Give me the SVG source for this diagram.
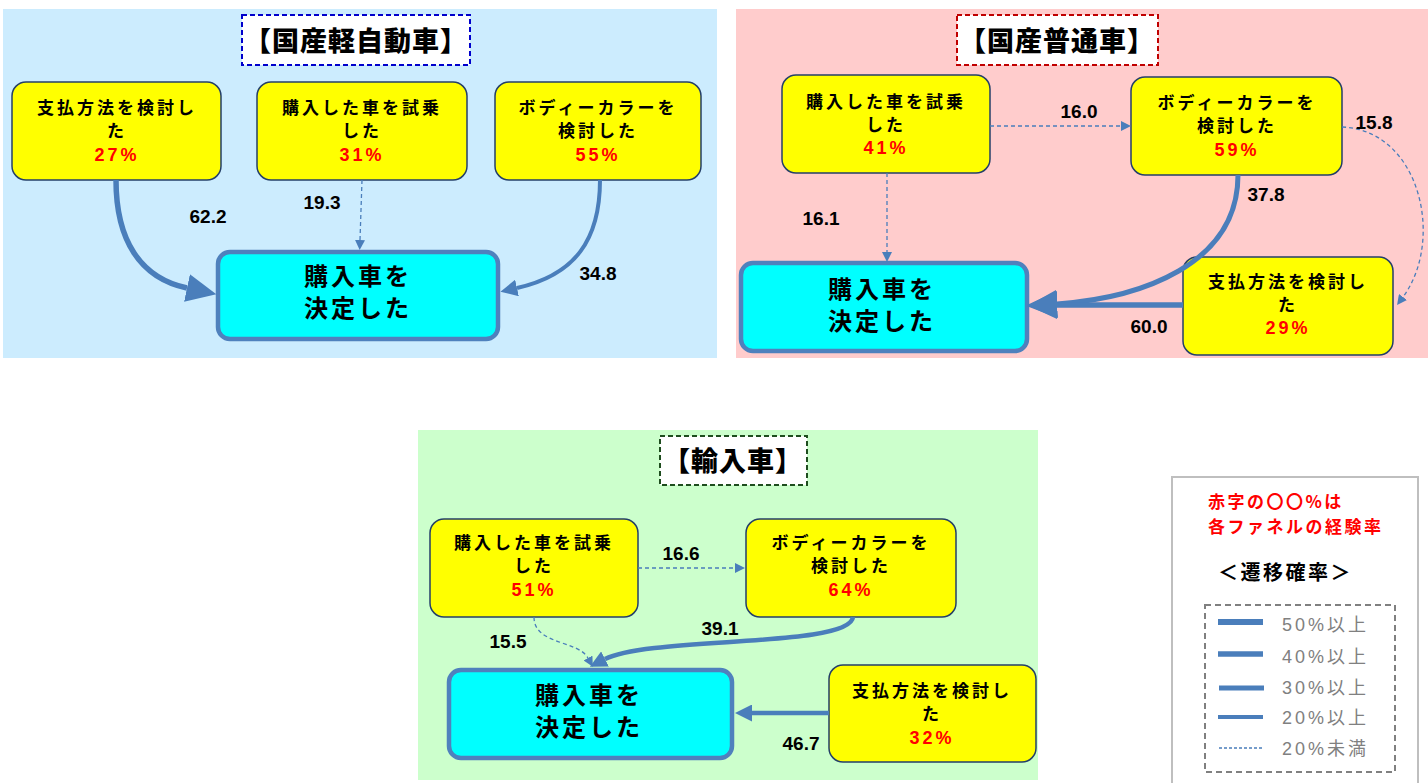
<svg xmlns="http://www.w3.org/2000/svg" width="1428" height="783" viewBox="0 0 1428 783">
<style>
.jp{font-family:"Noto Sans CJK JP","Noto Sans",sans-serif;font-weight:700;}
.nt{font-family:"Noto Sans CJK JP",sans-serif;font-weight:700;font-size:17px;fill:#000;text-anchor:middle;letter-spacing:3px;}
.pc{font-family:"Liberation Sans","Noto Sans CJK JP",sans-serif;font-weight:700;font-size:18px;fill:#FF0000;text-anchor:middle;letter-spacing:3px;}
.tg{font-family:"Noto Sans CJK JP",sans-serif;font-weight:700;font-size:24px;fill:#000;text-anchor:middle;letter-spacing:3px;}
.ttl{font-family:"Noto Sans CJK JP",sans-serif;font-weight:900;font-size:27px;fill:#000;text-anchor:middle;letter-spacing:1px;}
.lb{font-family:"Liberation Sans","Noto Sans",sans-serif;font-weight:700;font-size:19px;fill:#000;text-anchor:middle;}
.node{fill:#FFFF00;stroke:#243F68;stroke-width:1.5;}
.target{fill:#00FFFF;stroke:#4F81BD;stroke-width:4.5;}
.c{fill:none;stroke:#4A7EBB;}
.d{fill:none;stroke:#4A7EBB;stroke-width:1.3;stroke-dasharray:4,3;}
.lg{font-family:"Liberation Sans","Noto Sans CJK JP",sans-serif;font-size:18px;fill:#808080;letter-spacing:3px;}
</style>
<defs>
<marker id="big" markerUnits="userSpaceOnUse" markerWidth="30" markerHeight="28" refX="0" refY="14" orient="auto"><path d="M0,0 L30,14 L0,28 z" fill="#4A7EBB"/></marker>
<marker id="med" markerUnits="userSpaceOnUse" markerWidth="17" markerHeight="17" refX="0" refY="8.5" orient="auto"><path d="M0,0 L17,8.5 L0,17 z" fill="#4A7EBB"/></marker>
<marker id="sm" markerUnits="userSpaceOnUse" markerWidth="10" markerHeight="10" refX="0" refY="5" orient="auto"><path d="M0,0 L10,5 L0,10 z" fill="#4A7EBB"/></marker>
</defs>
<rect width="1428" height="783" fill="#FFFFFF"/>

<!-- Panel 1 -->
<g id="panel-kei">
<rect x="3" y="9" width="714" height="349" fill="#CCECFE"/>
<g id="title-kei"><rect x="242" y="15" width="228" height="50" fill="#FFFFFF" stroke="#0000CC" stroke-width="2" stroke-dasharray="5,3"/><text class="ttl" x="356" y="51">【国産軽自動車】</text></g>
<g id="k-pay"><rect class="node" x="12" y="82" width="209" height="98" rx="14"/><text class="nt" x="117" y="114">支払方法を検討し</text><text class="nt" x="117" y="137">た</text><text class="pc" x="117" y="161">27%</text></g>
<g id="k-test"><rect class="node" x="257" y="82" width="210" height="98" rx="14"/><text class="nt" x="362" y="114">購入した車を試乗</text><text class="nt" x="362" y="137">した</text><text class="pc" x="362" y="161">31%</text></g>
<g id="k-color"><rect class="node" x="495" y="82" width="206" height="98" rx="14"/><text class="nt" x="598" y="114">ボディーカラーを</text><text class="nt" x="598" y="137">検討した</text><text class="pc" x="598" y="161">55%</text></g>
<g id="k-buy"><rect class="target" x="218" y="252" width="280" height="87" rx="12"/><text class="tg" x="358" y="285">購入車を</text><text class="tg" x="358" y="317">決定した</text></g>
<g id="k-edges">
<path class="c" stroke-width="5.5" d="M116,180 C116,240 140,278 187,288" marker-end="url(#big)"/>
<path class="d" d="M362,180 L360,240" marker-end="url(#sm)"/>
<path class="c" stroke-width="4" d="M600,180 C600,240 575,275 517,288" marker-end="url(#med)"/>
<text class="lb" x="208" y="223">62.2</text>
<text class="lb" x="322" y="209">19.3</text>
<text class="lb" x="598" y="280">34.8</text>
</g>
</g>

<!-- Panel 2 -->
<g id="panel-futsu">
<rect x="736" y="9" width="692" height="349" fill="#FFCCCC"/>
<g id="title-futsu"><rect x="957" y="15" width="201" height="50" fill="#FFFFFF" stroke="#C00000" stroke-width="2" stroke-dasharray="5,3"/><text class="ttl" x="1057" y="51">【国産普通車】</text></g>
<g id="f-test"><rect class="node" x="782" y="75" width="208" height="98" rx="14"/><text class="nt" x="886" y="108">購入した車を試乗</text><text class="nt" x="886" y="131">した</text><text class="pc" x="886" y="154">41%</text></g>
<g id="f-color"><rect class="node" x="1131" y="77" width="211" height="98" rx="14"/><text class="nt" x="1237" y="109">ボディーカラーを</text><text class="nt" x="1237" y="132">検討した</text><text class="pc" x="1237" y="156">59%</text></g>
<g id="f-pay"><rect class="node" x="1183" y="257" width="210" height="98" rx="14"/><text class="nt" x="1288" y="288">支払方法を検討し</text><text class="nt" x="1288" y="311">た</text><text class="pc" x="1288" y="334">29%</text></g>
<g id="f-buy"><rect class="target" x="741" y="263" width="286" height="88" rx="12"/><text class="tg" x="882" y="298">購入車を</text><text class="tg" x="882" y="330">決定した</text></g>
<g id="f-edges">
<path class="d" d="M990,126 L1121,126" marker-end="url(#sm)"/>
<path class="d" d="M887,173 L887,252" marker-end="url(#sm)"/>
<path class="c" stroke-width="5" d="M1238,175 C1238,265 1140,298 1057,304" marker-end="url(#big)"/>
<path class="c" stroke-width="5.5" d="M1183,305 L1057,305" marker-end="url(#big)"/>
<path class="d" d="M1342,127 C1420,130 1445,240 1403,297" marker-end="url(#sm)"/>
<text class="lb" x="1079" y="118">16.0</text>
<text class="lb" x="821" y="225">16.1</text>
<text class="lb" x="1266" y="201">37.8</text>
<text class="lb" x="1149" y="333">60.0</text>
<text class="lb" x="1374" y="129">15.8</text>
</g>
</g>

<!-- Panel 3 -->
<g id="panel-import">
<rect x="418" y="430" width="620" height="350" fill="#CCFFCC"/>
<g id="title-import"><rect x="660" y="436" width="147" height="49" fill="#FFFFFF" stroke="#1E4D1E" stroke-width="2" stroke-dasharray="5,3"/><text class="ttl" x="733" y="471">【輸入車】</text></g>
<g id="i-test"><rect class="node" x="430" y="519" width="208" height="98" rx="14"/><text class="nt" x="534" y="549">購入した車を試乗</text><text class="nt" x="534" y="572">した</text><text class="pc" x="534" y="596">51%</text></g>
<g id="i-color"><rect class="node" x="746" y="519" width="210" height="98" rx="14"/><text class="nt" x="851" y="549">ボディーカラーを</text><text class="nt" x="851" y="572">検討した</text><text class="pc" x="851" y="596">64%</text></g>
<g id="i-pay"><rect class="node" x="829" y="665" width="207" height="97" rx="14"/><text class="nt" x="932" y="697">支払方法を検討し</text><text class="nt" x="932" y="720">た</text><text class="pc" x="932" y="744">32%</text></g>
<g id="i-buy"><rect class="target" x="449" y="670" width="283" height="88" rx="12"/><text class="tg" x="589" y="704">購入車を</text><text class="tg" x="589" y="736">決定した</text></g>
<g id="i-edges">
<path class="d" d="M638,568 L735,568" marker-end="url(#sm)"/>
<path class="d" d="M534,617 C534,645 578,640 588,658" marker-end="url(#sm)"/>
<path class="c" stroke-width="4.5" d="M853,617 C850,648 650,636 605,659" marker-end="url(#med)"/>
<path class="c" stroke-width="4.5" d="M829,713 L752,713" marker-end="url(#med)"/>
<text class="lb" x="681" y="560">16.6</text>
<text class="lb" x="508" y="648">15.5</text>
<text class="lb" x="720" y="635">39.1</text>
<text class="lb" x="801" y="750">46.7</text>
</g>
</g>

<!-- Legend -->
<g id="legend">
<rect x="1172" y="477" width="246" height="312" fill="#FFFFFF" stroke="#BFBFBF" stroke-width="2"/>
<text class="jp" x="1208" y="508" font-size="17" fill="#FF0000" letter-spacing="2.5">赤字の〇〇%は</text>
<text class="jp" x="1208" y="533" font-size="17" fill="#FF0000" letter-spacing="2.5">各ファネルの経験率</text>
<text class="jp" x="1218" y="580" font-size="20" fill="#000000" letter-spacing="2.5">＜遷移確率＞</text>
<rect x="1205" y="605" width="190" height="167" fill="none" stroke="#808080" stroke-width="2" stroke-dasharray="6,4"/>
<line x1="1218" y1="622" x2="1263" y2="622" stroke="#4A7EBB" stroke-width="6"/>
<line x1="1218" y1="654" x2="1263" y2="654" stroke="#4A7EBB" stroke-width="5.5"/>
<line x1="1219" y1="688" x2="1264" y2="688" stroke="#4A7EBB" stroke-width="5"/>
<line x1="1218" y1="717" x2="1263" y2="717" stroke="#4A7EBB" stroke-width="4"/>
<line x1="1219" y1="748" x2="1264" y2="748" stroke="#4A7EBB" stroke-width="1.3" stroke-dasharray="3,2"/>
<text class="lg" x="1282" y="631">50%以上</text>
<text class="lg" x="1282" y="663">40%以上</text>
<text class="lg" x="1282" y="694">30%以上</text>
<text class="lg" x="1282" y="724">20%以上</text>
<text class="lg" x="1282" y="755">20%未満</text>
</g>
</svg>
